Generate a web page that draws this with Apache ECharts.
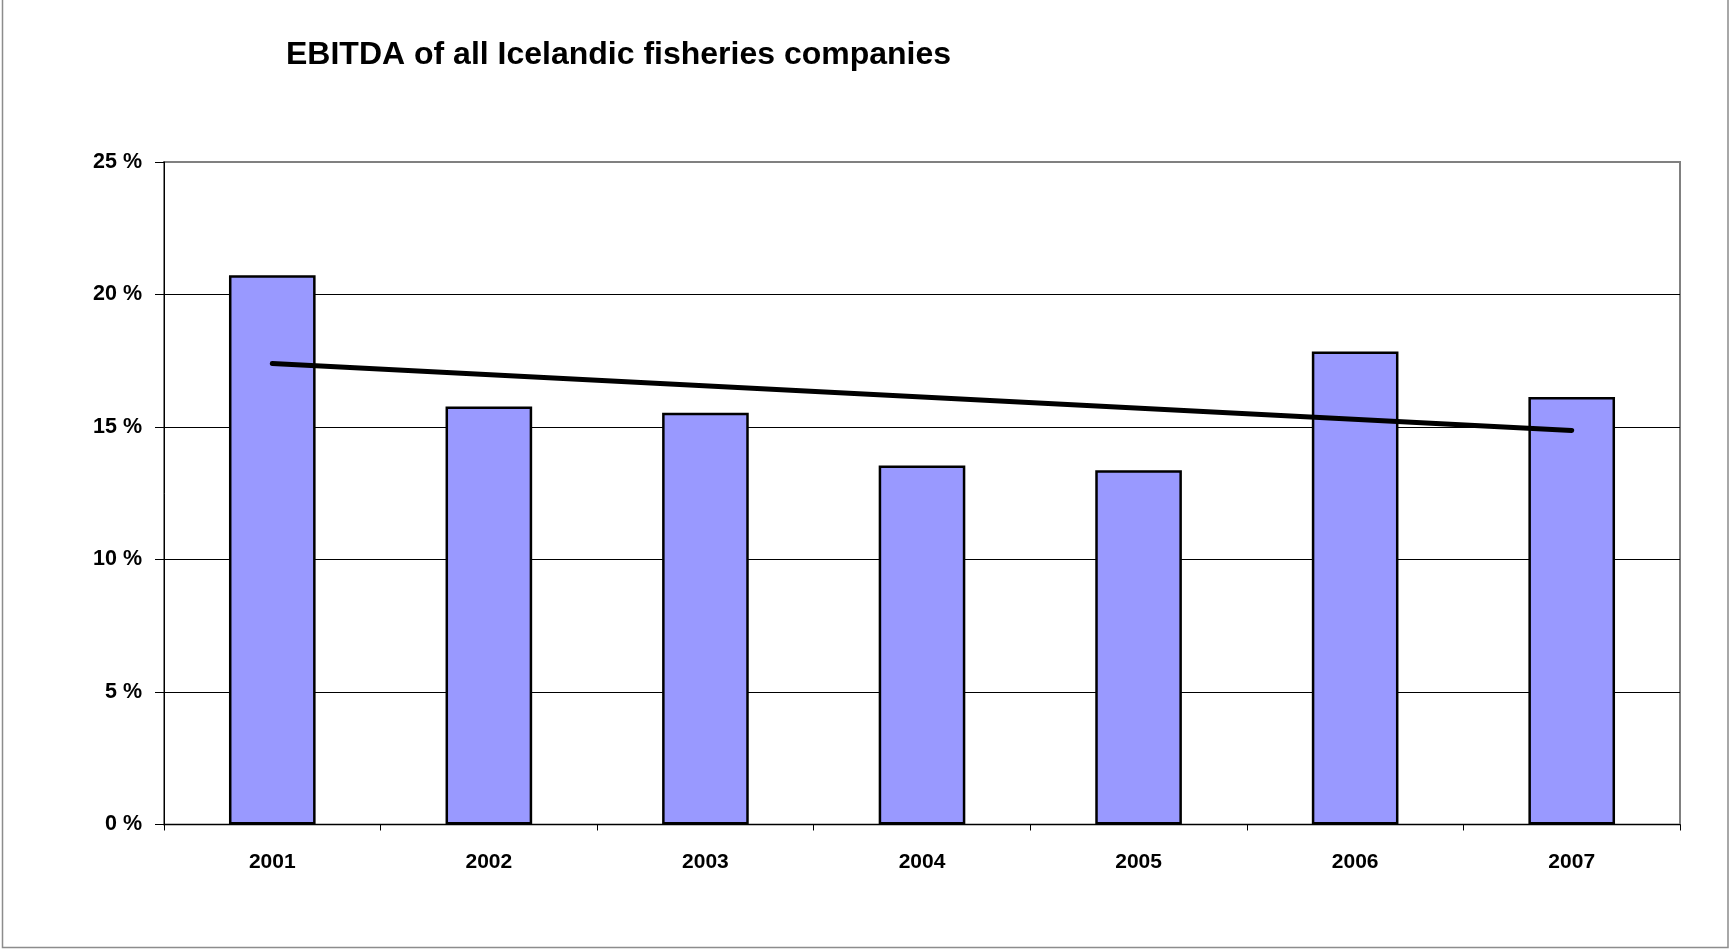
<!DOCTYPE html>
<html>
<head>
<meta charset="utf-8">
<title>EBITDA of all Icelandic fisheries companies</title>
<script src="https://cdn.jsdelivr.net/npm/echarts@6/dist/echarts.min.js"></script>
<style>
  html, body { margin: 0; padding: 0; background: #fff; }
  #chart { width: 1731px; height: 949px; }
</style>
</head>
<body>
<div id="chart"></div>
<script>
// Years on the category axis
const years = ['2001', '2002', '2003', '2004', '2005', '2006', '2007'];
// EBITDA as a share of revenue, percent
const ebitda = [20.73, 15.77, 15.54, 13.55, 13.37, 17.85, 16.13];
// Linear trend: only the two end points are given, the line joins them
const trend = [17.40, null, null, null, null, null, 14.87];
// Value axis ticks
const yTicks = [0, 5, 10, 15, 20, 25];

const FONT = '"Liberation Sans", Arial, sans-serif';

const chart = echarts.init(document.getElementById('chart'), null, { renderer: 'canvas' });

chart.setOption({
  backgroundColor: '#ffffff',
  animation: false,
  title: {
    text: 'EBITDA of all Icelandic fisheries companies',
    left: 281,
    top: 34,
    textStyle: { fontFamily: FONT, fontSize: 32, fontWeight: 'bold', color: '#000' }
  },
  graphic: [{
    type: 'rect',
    shape: { x: 2.5, y: -5, width: 1725.5, height: 952.5 },
    style: { fill: 'none', stroke: '#8c8c8c', lineWidth: 1.5 },
    silent: true,
    z: 100
  }],
  grid: {
    left: 164, right: 51, top: 162, bottom: 124.5,
    show: true,
    borderColor: '#808080',
    borderWidth: 2,
    backgroundColor: '#ffffff'
  },
  xAxis: {
    type: 'category',
    data: years,
    boundaryGap: true,
    axisLine: { show: true, lineStyle: { color: '#000', width: 1 } },
    axisTick: { show: true, alignWithLabel: false, length: 6, lineStyle: { color: '#000' } },
    axisLabel: {
      margin: 27,
      fontFamily: FONT, fontSize: 21, fontWeight: 'bold', color: '#000'
    },
    splitLine: { show: false }
  },
  yAxis: {
    type: 'value',
    min: yTicks[0],
    max: yTicks[yTicks.length - 1],
    interval: yTicks[1] - yTicks[0],
    axisLine: { show: true, lineStyle: { color: '#000', width: 1 } },
    axisTick: { show: true, length: 9, lineStyle: { color: '#000' } },
    axisLabel: {
      margin: 22,
      formatter: '{value} %',
      fontFamily: FONT, fontSize: 21.5, fontWeight: 'bold', color: '#000'
    },
    splitLine: {
      show: true,
      showMaxLine: false,
      lineStyle: { color: '#000', width: 1 }
    }
  },
  series: [
    {
      name: 'EBITDA',
      type: 'bar',
      data: ebitda,
      barWidth: '40%',
      itemStyle: { color: '#9999ff', borderColor: '#000', borderWidth: 2.5 },
      z: 2
    },
    {
      name: 'Trend',
      type: 'line',
      data: trend,
      connectNulls: true,
      symbol: 'none',
      lineStyle: { color: '#000', width: 5, cap: 'round' },
      z: 3
    }
  ]
});
</script>
</body>
</html>
